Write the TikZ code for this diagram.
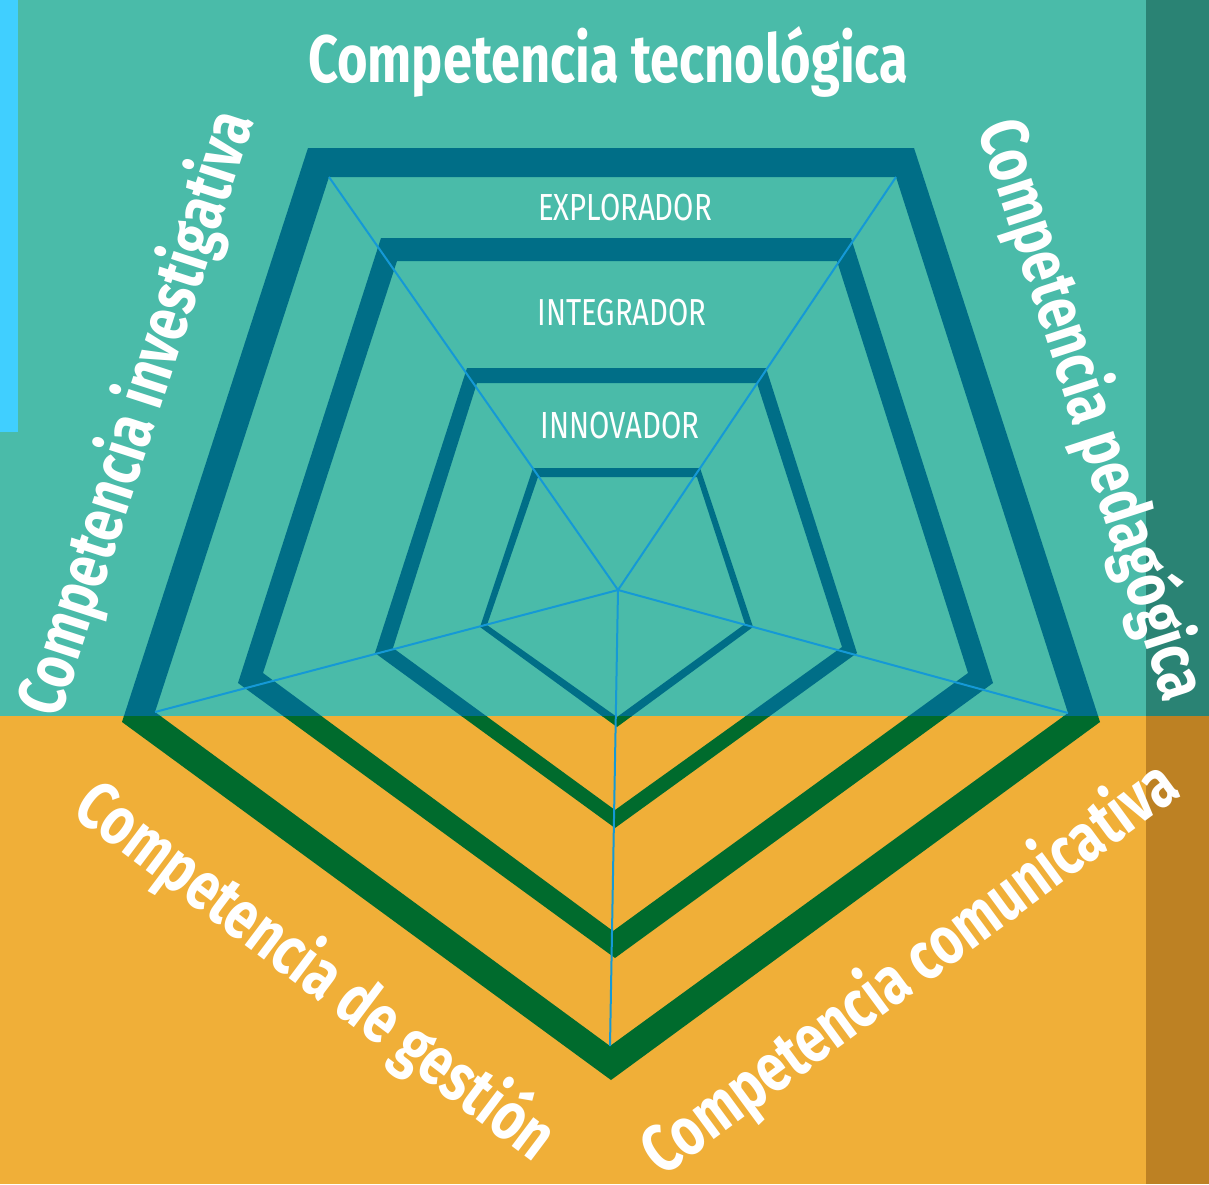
\documentclass[tikz,border=0pt]{standalone}
\usepackage{fontspec}
\setmainfont{Fira Sans}[FakeStretch=0.78]
\usepackage{graphicx}
\definecolor{tealbg}{HTML}{4ABBA9}
\definecolor{orangebg}{HTML}{F0AF38}
\definecolor{tealdark}{HTML}{2A8374}
\definecolor{orangedark}{HTML}{BD8123}
\definecolor{skyblue}{HTML}{40CFFF}
\definecolor{ringblue}{HTML}{006E87}
\definecolor{ringgreen}{HTML}{006B2D}
\definecolor{spokeblue}{HTML}{1599D6}
\begin{document}
\begin{tikzpicture}[x=1pt,y=1pt,
  lab/.style={text=white,inner sep=0pt,font=\bfseries\fontsize{68}{70}\selectfont},
  lvl/.style={text=white,inner sep=0pt,anchor=base,font=\fontsize{39}{40}\selectfont},
  spoke/.style={draw=spokeblue,line width=2pt}]
\useasboundingbox (0,0) rectangle (1209,-1184);
% backgrounds
\fill[tealbg] (0,0) rectangle (1146,-716);
\fill[orangebg] (0,-716) rectangle (1146,-1184);
\fill[tealdark] (1146,0) rectangle (1209,-716);
\fill[orangedark] (1146,-716) rectangle (1209,-1184);
\fill[skyblue] (0,0) rectangle (18,-432);
% rings
\foreach \c/\ya/\yb in {ringblue/0/-716, ringgreen/-716/-1184}{
\begin{scope}
\clip (0,\ya) rectangle (1209,\yb);
\fill[\c, even odd rule]
 (308,-148)--(914,-148)--(1100,-722)--(611,-1080)--(122,-722)--cycle
 (329,-177)--(896,-177)--(1068,-713)--(610,-1046)--(155,-712)--cycle
 (381,-238)--(851,-238)--(993,-683)--(615,-958)--(238,-683)--cycle
 (397,-261)--(837,-261)--(968,-673)--(613,-931)--(263,-673)--cycle
 (467,-368)--(766,-368)--(857,-653)--(615,-828)--(375,-653)--cycle
 (477,-383)--(757,-383)--(842,-647)--(615,-810)--(393,-648)--cycle
 (533,-468)--(700,-468)--(753,-627)--(617,-727)--(480,-627)--cycle
 (538,-477)--(697,-477)--(745,-624)--(617,-717)--(487,-625)--cycle;
\end{scope}}
% spokes
\coordinate (c) at (618,-590);
\coordinate (v1) at (329,-177);
\coordinate (v2) at (896,-177);
\coordinate (v3) at (1068,-713);
\coordinate (v4) at (610,-1046);
\coordinate (v5) at (155,-712);
\foreach \v in {v1,v2,v3,v4,v5}{\draw[spoke] (c) -- (\v);}
% level labels
\node[lvl] (explorador) at (625,-220) {\resizebox{174pt}{!}{EXPLORADOR}};
\node[lvl] (integrador) at (622,-325) {\resizebox{169pt}{!}{INTEGRADOR}};
\node[lvl] (innovador) at (620,-438) {\resizebox{159pt}{!}{INNOVADOR}};
% competence labels
\node[lab,anchor=base] (tec) at (608,-82) {\resizebox{600pt}{!}{Competencia tecnológica}};
\node[lab,rotate=72] (inv) at (138,-414) {\resizebox{630pt}{!}{Competencia investigativa}};
\node[lab,rotate=-72] (ped) at (1091,-410) {\resizebox{605pt}{!}{Competencia pedagógica}};
\node[lab,rotate=-37] (ges) at (315,-972) {\resizebox{580pt}{!}{Competencia de gestión}};
\node[lab,rotate=36.4] (com) at (911,-970) {\resizebox{646pt}{!}{Competencia comunicativa}};
\end{tikzpicture}
\end{document}
